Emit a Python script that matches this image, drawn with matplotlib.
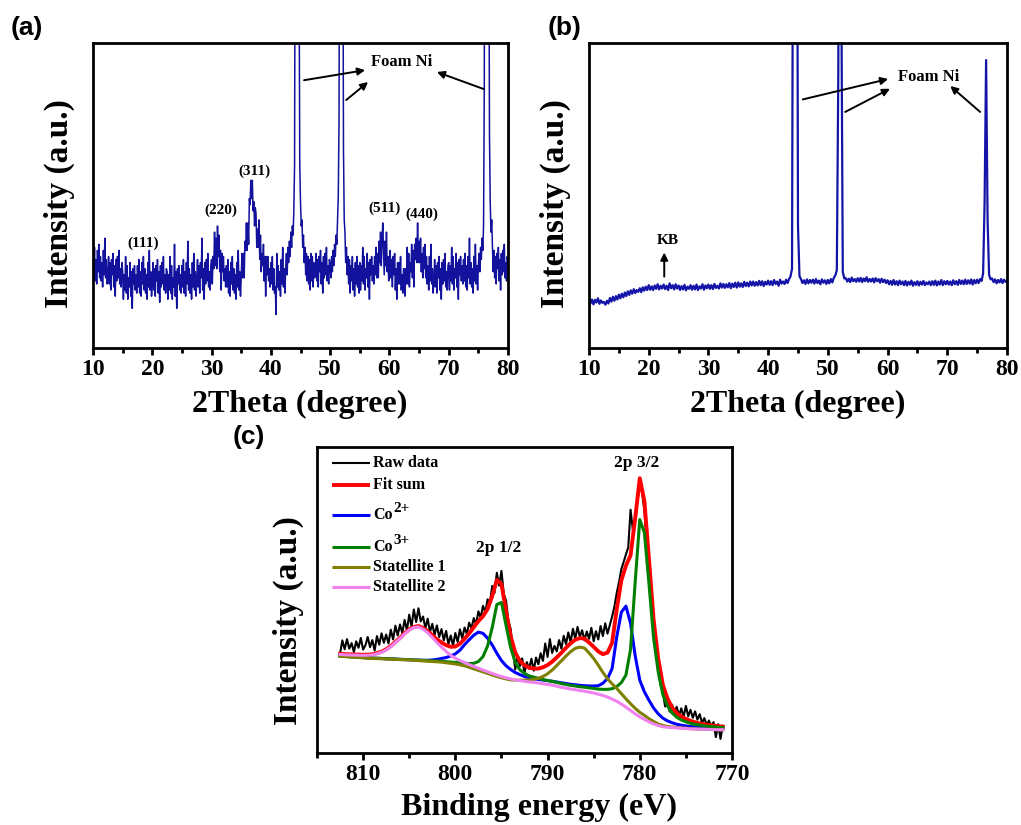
import numpy as np
import matplotlib
matplotlib.use("Agg")
import matplotlib.pyplot as plt
from matplotlib.ticker import MultipleLocator

plt.rcParams['font.family'] = 'Liberation Serif'
plt.rcParams['font.weight'] = 'bold'

### XRD patterns

# (a) Co3O4 on foam Ni, 0.125 deg steps
two_theta_a = np.linspace(10, 80, 561)
xrd_a = [31, 24, 33, 22, 29, 21, 32, 25, 34, 23, 30, 22, 28, 20, 32, 24, 36, 23, 29, 21,
         23, 30, 21, 28, 19, 29, 24, 31, 20, 27, 17, 29, 22, 30, 23, 32, 21, 26, 20, 28,
         25, 16, 24, 19, 30, 18, 27, 16, 23, 20, 28, 17, 25, 13, 26, 21, 27, 19, 24, 18,
         27, 20, 29, 18, 25, 17, 28, 21, 30, 19, 26, 18, 24, 16, 28, 20, 32, 19, 25, 17,
         21, 28, 19, 26, 17, 27, 22, 29, 18, 25, 15, 27, 20, 28, 21, 30, 19, 24, 18, 26,
         25, 16, 24, 19, 30, 18, 27, 16, 23, 20, 34, 17, 25, 13, 26, 21, 27, 19, 24, 18,
         27, 20, 29, 18, 25, 17, 28, 21, 35, 19, 26, 18, 24, 16, 28, 20, 31, 19, 25, 17,
         22, 29, 20, 27, 18, 28, 23, 36, 19, 26, 16, 28, 21, 29, 22, 31, 20, 25, 19, 27,
         29, 21, 30, 26, 38, 27, 36, 26, 40, 30, 37, 25, 32, 19, 31, 25, 30, 22, 26, 20,
         27, 20, 29, 18, 25, 17, 28, 21, 30, 19, 26, 18, 24, 16, 28, 20, 32, 19, 25, 17,
         23, 31, 23, 31, 23, 35, 32, 41, 32, 41, 34, 49, 47, 55, 49, 55, 45, 48, 40, 46,
         44, 33, 39, 33, 42, 29, 37, 25, 31, 27, 34, 22, 30, 17, 30, 24, 30, 22, 26, 20,
         28, 21, 30, 19, 26, 18, 20, 11, 31, 20, 27, 19, 25, 17, 29, 21, 33, 20, 26, 18,
         26, 31, 24, 33, 28, 35, 30, 38, 33, 40, 37, 45, 60, 180, 270, 280, 275, 250, 130, 60,
         48, 40, 42, 33, 37, 28, 33, 24, 31, 22, 30, 21, 29, 19, 31, 22, 30, 20, 28, 23,
         24, 31, 22, 29, 20, 30, 25, 32, 21, 28, 18, 30, 23, 31, 24, 33, 22, 27, 21, 29,
         27, 23, 30, 25, 32, 27, 34, 30, 37, 34, 42, 50, 75, 200, 275, 280, 260, 160, 65, 42,
         38, 28, 33, 24, 30, 21, 29, 18, 27, 22, 30, 19, 26, 17, 28, 21, 30, 20, 27, 18,
         28, 19, 27, 22, 33, 21, 30, 19, 26, 23, 31, 20, 28, 16, 29, 24, 30, 22, 27, 21,
         30, 24, 33, 23, 31, 23, 35, 28, 38, 27, 35, 41, 32, 24, 35, 27, 38, 25, 30, 22,
         25, 32, 23, 29, 20, 30, 24, 31, 19, 26, 16, 28, 21, 28, 21, 30, 19, 24, 18, 26,
         26, 17, 26, 21, 33, 21, 31, 20, 28, 25, 34, 23, 32, 20, 34, 29, 36, 28, 41, 28,
         35, 28, 36, 25, 31, 23, 33, 26, 34, 23, 30, 21, 27, 19, 30, 22, 34, 21, 26, 18,
         22, 29, 20, 27, 18, 28, 23, 30, 19, 26, 16, 28, 21, 29, 22, 31, 20, 25, 19, 27,
         28, 19, 27, 22, 33, 21, 30, 19, 26, 23, 31, 20, 28, 16, 29, 24, 30, 22, 27, 21,
         29, 22, 31, 20, 27, 19, 30, 23, 36, 21, 28, 20, 26, 18, 30, 22, 34, 21, 27, 19,
         27, 31, 25, 33, 29, 36, 32, 40, 85, 220, 280, 285, 280, 260, 160, 70, 48, 38, 42, 33,
         25, 32, 23, 30, 21, 31, 26, 33, 22, 29, 19, 31, 24, 32, 25, 34, 23, 28, 22, 30,
         27]

# (b) KB on foam Ni, 0.25 deg steps
two_theta_b = np.linspace(10, 80, 281)
xrd_b = [16.0, 14.6, 15.9, 14.3, 15.8, 14.9, 16.3, 14.5, 15.6, 14.8,
         15.1, 14.2, 15.5, 14.6, 16.4, 15.2, 16.8, 15.5, 17.0, 15.9,
         17.5, 16.3, 17.8, 16.6, 18.2, 17.0, 18.6, 17.4, 18.9, 17.8,
         19.3, 18.0, 19.0, 18.4, 19.6, 18.3, 19.9, 18.8, 20.1, 19.0,
         20.6, 19.1, 20.2, 19.0, 20.5, 19.4, 20.9, 19.2, 20.4, 19.5,
         20.8, 19.3, 20.4, 19.0, 21.2, 19.6, 20.6, 19.2, 20.9, 19.5,
         20.5, 19.0, 20.3, 19.2, 20.7, 18.9, 20.1, 19.4, 20.6, 19.1,
         20.4, 19.2, 20.8, 19.0, 20.2, 19.5, 20.9, 19.1, 20.5, 19.6,
         20.8, 19.4, 20.6, 19.3, 21.0, 19.7, 20.4, 19.5, 21.2, 19.8,
         21.0, 19.7, 20.9, 19.9, 21.3, 19.6, 21.1, 20.0, 21.4, 19.8,
         21.5, 20.1, 21.2, 20.0, 21.7, 20.3, 21.4, 20.2, 21.8, 20.5,
         21.8, 20.4, 21.6, 20.5, 22.0, 20.6, 21.9, 20.3, 21.7, 20.8,
         22.1, 20.7, 21.9, 20.6, 22.3, 21.0, 21.8, 20.4, 22.4, 21.1,
         21.8, 21.0, 22.4, 21.3, 22.6, 23.5, 26.0, 220, 260, 250,
         40.0, 23.5, 22.6, 21.3, 22.2, 21.0, 22.5, 21.2, 22.3, 21.4,
         22.4, 21.1, 22.6, 21.3, 22.1, 20.9, 22.5, 21.4, 22.2, 21.0,
         22.3, 21.2, 22.6, 21.5, 23.0, 23.8, 25.5, 90, 260, 120,
         25.0, 22.8, 22.9, 21.8, 22.7, 21.6, 23.1, 21.9, 22.6, 21.7,
         22.9, 21.8, 23.0, 21.6, 22.8, 21.9, 23.2, 21.7, 22.6, 21.8,
         22.8, 21.5, 22.9, 21.9, 22.6, 21.4, 22.7, 21.6, 22.4, 21.3,
         22.2, 20.9, 22.0, 20.7, 22.3, 20.8, 21.9, 20.6, 22.1, 20.9,
         21.8, 20.6, 22.0, 20.5, 21.7, 20.8, 22.1, 20.4, 21.6, 20.7,
         21.9, 20.5, 21.7, 20.8, 22.0, 20.6, 21.5, 20.9, 21.8, 20.6,
         21.9, 20.7, 22.1, 20.5, 21.8, 20.8, 22.3, 20.6, 21.9, 20.9,
         22.0, 20.8, 21.8, 20.6, 22.2, 20.9, 21.9, 20.7, 22.3, 21.0,
         22.1, 20.9, 22.4, 21.0, 22.2, 21.1, 22.5, 20.8, 22.3, 21.2,
         22.4, 21.3, 22.6, 22.0, 24.5, 48.0, 94.4, 42.0, 24.0, 22.5,
         22.8, 21.6, 22.5, 21.2, 22.3, 21.5, 22.6, 21.3, 22.4, 21.7,
         22.0]

### XPS Co 2p, fitted curves on a 0.5 eV grid (812.5 -> 771 eV)

binding_e = np.linspace(812.5, 771.0, 84)

background = [31.6, 31.5, 31.4, 31.3, 31.2, 31.1, 31.0, 30.9, 30.85, 30.8,
              30.7, 30.65, 30.6, 30.5, 30.45, 30.4, 30.3, 30.2, 30.1, 30.0,
              29.9, 29.8, 29.7, 29.5, 29.3, 29.1, 28.8, 28.5, 28.0, 27.5,
              27.0, 26.5, 26.0, 25.5, 25.0, 24.6, 24.2, 23.9, 23.6, 23.4,
              23.2, 23.0, 22.9, 22.7, 22.5, 22.3, 22.1, 21.8, 21.5, 21.2,
              20.9, 20.7, 20.4, 20.2, 19.9, 19.6, 19.2, 18.8, 18.3, 17.6,
              16.9, 16.0, 15.0, 13.9, 12.8, 11.8, 11.0, 10.2, 9.5, 9.0,
              8.6, 8.4, 8.3, 8.2, 8.1, 8.0, 7.9, 7.85, 7.8, 7.75,
              7.7, 7.65, 7.6, 7.6]

# peak heights above the background
co2_peaks = [0.1, 0.1, 0.1, 0.1, 0.1, 0.1, 0.1, 0.1, 0.1, 0.1,
             0.1, 0.1, 0.1, 0.1, 0.1, 0.1, 0.1, 0.15, 0.2, 0.3,
             0.5, 0.8, 1.2, 1.7, 2.4, 3.3, 4.8, 6.9, 9.0, 11.0,
             12.5, 12.6, 11.5, 9.8, 7.6, 5.6, 4.3, 3.4, 2.7, 2.2,
             1.8, 1.6, 1.4, 1.35, 1.35, 1.35, 1.35, 1.4, 1.45, 1.5,
             1.55, 1.6, 1.7, 1.8, 2.0, 2.3, 2.8, 4.0, 6.0, 10.0,
             21.0, 30.0, 33.0, 28.5, 19.0, 12.0, 9.0, 7.0, 5.2, 3.8,
             2.8, 2.1, 1.6, 1.2, 1.0, 0.85, 0.75, 0.65, 0.55, 0.5,
             0.45, 0.4, 0.35, 0.3]

co3_peaks = [0.1, 0.1, 0.1, 0.1, 0.1, 0.1, 0.1, 0.1, 0.1, 0.1,
             0.1, 0.1, 0.1, 0.1, 0.1, 0.1, 0.1, 0.15, 0.15, 0.2,
             0.2, 0.25, 0.3, 0.35, 0.4, 0.5, 0.7, 0.9, 1.2, 1.8,
             2.9, 5.0, 9.0, 15.5, 23.5, 24.6, 17.5, 10.5, 6.0, 3.8,
             2.8, 2.2, 1.9, 1.7, 1.5, 1.4, 1.3, 1.25, 1.2, 1.2,
             1.2, 1.2, 1.25, 1.3, 1.4, 1.5, 1.7, 2.0, 2.5, 3.4,
             4.8, 7.0, 10.5, 20.0, 43.0, 64.5, 61.0, 45.0, 28.0, 17.5,
             10.5, 7.0, 4.8, 3.5, 2.7, 2.2, 1.8, 1.5, 1.3, 1.1,
             1.0, 0.9, 0.8, 0.7]

sat1_peak = [0, 0, 0, 0, 0, 0, 0, 0, 0, 0,
             0, 0, 0, 0, 0, 0, 0, 0, 0, 0,
             0, 0, 0, 0, 0, 0, 0, 0, 0, 0,
             0, 0, 0, 0, 0, 0, 0, 0, 0.2, 0.4,
             0.6, 0.9, 1.2, 1.7, 2.5, 3.6, 5.0, 6.8, 8.6, 10.5,
             12.2, 13.5, 14.2, 14.1, 12.8, 11.3, 9.5, 7.5, 6.0, 5.0,
             4.2, 3.4, 2.7, 2.2, 1.8, 1.5, 1.3, 1.0, 0.8, 0.5,
             0.4, 0.3, 0.2, 0.15, 0.1, 0.1, 0.05, 0.05, 0, 0,
             0, 0, 0, 0]

sat2_peak = [0.6, 0.6, 0.65, 0.7, 0.75, 0.8, 0.95, 1.15, 1.6, 2.1,
             3.0, 4.1, 5.5, 6.9, 8.5, 9.8, 10.7, 11.0, 10.4, 9.3,
             7.9, 6.3, 4.9, 3.7, 2.6, 1.9, 1.4, 1.05, 0.9, 0.8,
             0.7, 0.6, 0.55, 0.5, 0.45, 0.4, 0.35, 0.3, 0.3, 0.25,
             0.25, 0.2, 0.2, 0.15, 0.15, 0.1, 0.1, 0, 0, 0,
             0, 0, 0, 0, 0, 0, 0, 0, 0, 0,
             0, 0, 0, 0, 0, 0, 0, 0, 0, 0,
             0, 0, 0, 0, 0, 0, 0, 0, 0, 0,
             0, 0, 0, 0]

# raw spectrum, 0.25 eV steps
raw_e = np.linspace(812.5, 771.0, 167)
raw_counts = [32.5, 36.8, 33.9, 37.2, 34.1, 35.9, 33.0, 36.5, 34.4, 37.6,
              33.8, 35.2, 37.9, 34.6, 36.9, 33.5, 38.2, 35.4, 39.1, 36.0,
              38.7, 35.8, 40.3, 37.1, 41.6, 38.4, 42.0, 39.2, 43.5, 40.1,
              45.2, 41.3, 46.9, 42.8, 47.3, 43.0, 44.6, 40.8, 43.9, 39.5,
              42.2, 38.6, 41.7, 37.9, 40.5, 36.8, 39.9, 35.6, 38.4, 35.1,
              39.2, 36.3, 40.4, 37.5, 41.0, 38.9, 42.6, 40.7, 44.1, 42.0,
              46.3, 44.2, 48.1, 46.0, 50.2, 49.1, 54.6, 52.3, 58.9, 54.7,
              59.5, 52.1, 49.8, 43.2, 40.5, 33.6, 27.3, 31.8, 28.4, 30.9,
              26.2, 29.7, 27.5, 30.8, 26.9, 31.2, 29.0, 32.6, 30.1, 35.8,
              31.4, 37.2, 32.7, 35.0, 33.2, 36.9, 34.1, 38.3, 35.6, 39.4,
              36.2, 40.6, 37.4, 41.2, 38.0, 40.1, 36.8, 39.7, 37.3, 40.9,
              36.5, 39.8, 37.1, 41.5, 38.2, 42.4, 39.0, 41.8, 44.6, 47.9,
              52.3, 55.8, 60.1, 62.4, 64.9, 67.2, 79.5, 72.8, 76.0, 82.4,
              87.6, 85.1, 79.3, 68.7, 60.2, 50.4, 42.1, 33.5, 27.0, 22.4,
              19.8, 15.2, 16.9, 13.5, 15.8, 12.9, 15.1, 12.2, 14.6, 11.8,
              15.4, 12.0, 14.1, 11.5, 13.6, 10.9, 12.7, 9.8, 11.4, 9.2,
              10.6, 8.7, 10.1, 5.2, 9.4, 4.6, 8.9]

bg = np.array(background)
co2_line = bg + np.array(co2_peaks)
co3_line = bg + np.array(co3_peaks)
sat1_line = bg + np.array(sat1_peak)
sat2_line = bg + np.array(sat2_peak)
fit_sum = bg + np.array(co2_peaks) + np.array(co3_peaks) + np.array(sat1_peak) + np.array(sat2_peak)

W, H = 1021, 825
fig = plt.figure(figsize=(W / 100, H / 100), dpi=100)


def px_axes(l, t, r, b):
    return fig.add_axes([l / W, 1 - b / H, (r - l) / W, (b - t) / H])


def fig_xy(x, y):
    return x / W, 1 - y / H


def style_axes(ax):
    ax.set_yticks([])
    ax.xaxis.set_major_locator(MultipleLocator(10))
    ax.xaxis.set_minor_locator(MultipleLocator(5))
    ax.tick_params(axis='x', which='major', direction='out', length=5, width=2, labelsize=17, pad=3)
    ax.tick_params(axis='x', which='minor', direction='out', length=3.5, width=2)
    for lab in ax.get_xticklabels():
        lab.set_fontweight('bold')
    for s in ax.spines.values():
        s.set_linewidth(2)


arrow_kw = dict(arrowstyle='-|>', color='black', lw=1.4, mutation_scale=11, shrinkA=0, shrinkB=0)

# (a)
ax_a = px_axes(93, 43, 508, 348)
ax_a.plot(two_theta_a, xrd_a, color='#12129c', lw=1.1)
ax_a.set_xlim(10, 80)
ax_a.set_ylim(0, 100)
style_axes(ax_a)
ax_a.text(62.1, 93.8, 'Foam Ni', fontsize=12, ha='center', va='center')
ax_a.annotate('', xy=(55.9, 91.1), xytext=(45.6, 87.8), arrowprops=arrow_kw)
ax_a.annotate('', xy=(56.4, 87.2), xytext=(52.7, 81.3), arrowprops=arrow_kw)
ax_a.annotate('', xy=(68.0, 90.5), xytext=(75.9, 84.9), arrowprops=arrow_kw)
for lab, x, y in [('(111)', 18.5, 34.2), ('(220)', 31.6, 45.0), ('(311)', 37.3, 57.9),
                  ('(511)', 59.2, 45.7), ('(440)', 65.5, 44.0)]:
    ax_a.text(x, y, lab, fontsize=11, ha='center', va='center')

# (b)
ax_b = px_axes(589, 43, 1007, 348)
ax_b.plot(two_theta_b, xrd_b, color='#1414a8', lw=1.6)
ax_b.set_xlim(10, 80)
ax_b.set_ylim(0, 100)
style_axes(ax_b)
ax_b.text(66.8, 88.8, 'Foam Ni', fontsize=12, ha='center', va='center')
ax_b.annotate('', xy=(60.1, 88.2), xytext=(45.8, 81.5), arrowprops=arrow_kw)
ax_b.annotate('', xy=(60.4, 85.0), xytext=(52.9, 77.4), arrowprops=arrow_kw)
ax_b.annotate('', xy=(70.5, 85.9), xytext=(75.5, 77.4), arrowprops=arrow_kw)
ax_b.text(23.2, 35.2, 'KB', fontsize=11, ha='center', va='center')
ax_b.annotate('', xy=(22.6, 31.3), xytext=(22.6, 23.4), arrowprops=arrow_kw)

# (c)
ax_c = px_axes(317, 447, 732, 753)
l_raw, = ax_c.plot(raw_e, raw_counts, color='black', lw=1.5)
l_fit, = ax_c.plot(binding_e, fit_sum, color='#ff0000', lw=2.8)
l_co2, = ax_c.plot(binding_e, co2_line, color='#0000ff', lw=2.2)
l_co3, = ax_c.plot(binding_e, co3_line, color='#008000', lw=2.2)
l_sat1, = ax_c.plot(binding_e, sat1_line, color='#808000', lw=2.2)
l_sat2, = ax_c.plot(binding_e, sat2_line, color='#ee82ee', lw=2.2)
ax_c.set_xlim(815, 770)
ax_c.set_ylim(0, 100)
style_axes(ax_c)
ax_c.text(780.3, 94.8, '2p 3/2', fontsize=12.5, ha='center', va='center')
ax_c.text(795.35, 67.0, '2p 1/2', fontsize=12.5, ha='center', va='center')

# legend drawn by hand so the charge superscripts stay full size
entries = [(l_raw, 'Raw data', None), (l_fit, 'Fit sum', None),
           (l_co2, 'Co', '2+'), (l_co3, 'Co', '3+'),
           (l_sat1, 'Statellite 1', None), (l_sat2, 'Statellite 2', None)]
row_y = [463, 485, 515, 547, 567, 587]
for (ln, name, sup), py in zip(entries, row_y):
    fy = (753 - py) / 306
    ax_c.plot([0.036, 0.128], [fy, fy], transform=ax_c.transAxes, color=ln.get_color(),
              lw=ln.get_linewidth(), solid_capstyle='butt')
    t = ax_c.text(0.135, fy, name, transform=ax_c.transAxes, fontsize=11.5, ha='left', va='center')
    if sup:
        ax_c.annotate(sup, xy=(1, 1), xycoords=t, xytext=(0.5, -1), textcoords='offset points',
                      fontsize=11, ha='left', va='center')

# axis titles
fig.text(*fig_xy(300, 411.7), '2Theta (degree)', fontsize=23, ha='center', va='baseline')
fig.text(*fig_xy(798, 411.7), '2Theta (degree)', fontsize=23, ha='center', va='baseline')
fig.text(*fig_xy(539, 815), 'Binding energy (eV)', fontsize=23, ha='center', va='baseline')
fig.text(*fig_xy(59, 204), 'Intensity (a.u.)', fontsize=24, rotation=90, ha='center', va='center')
fig.text(*fig_xy(555, 204), 'Intensity (a.u.)', fontsize=24, rotation=90, ha='center', va='center')
fig.text(*fig_xy(288, 621), 'Intensity (a.u.)', fontsize=24, rotation=90, ha='center', va='center')

# panel letters
for lab, x, y in [('(a)', 11, 27.5), ('(b)', 548, 27.5), ('(c)', 233, 437)]:
    fig.text(*fig_xy(x, y), lab, fontsize=19, family='Liberation Sans', weight='bold', ha='left', va='center')

fig.savefig('out.png', dpi=100)
